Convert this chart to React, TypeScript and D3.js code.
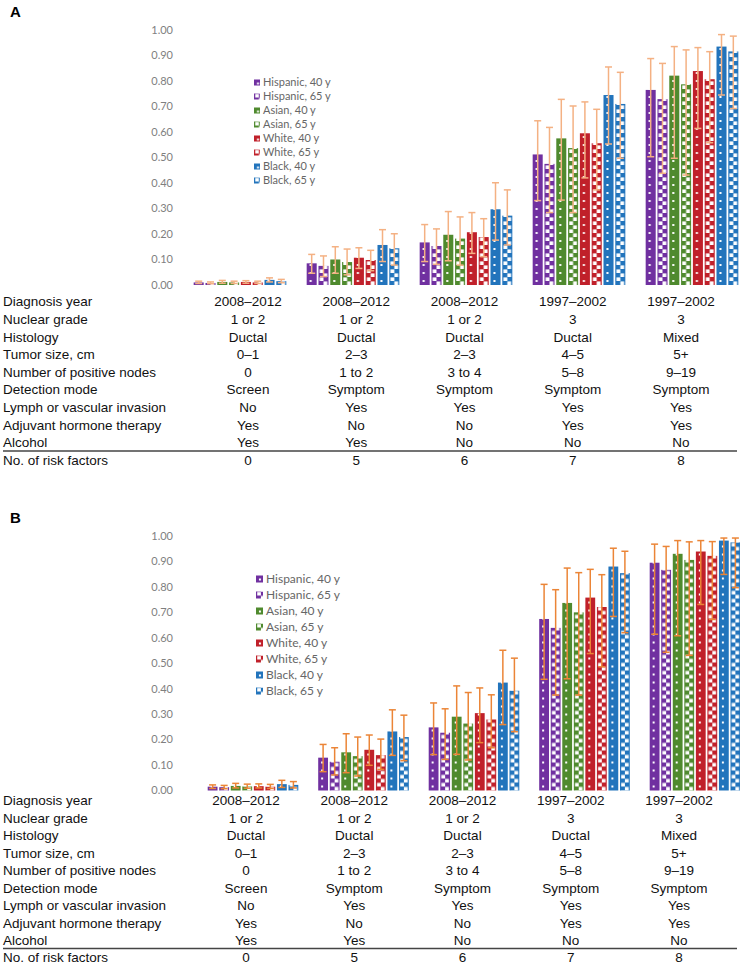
import React from "react";
import * as d3 from "d3";

const series = [
  "Hispanic, 40 y",
  "Hispanic, 65 y",
  "Asian, 40 y",
  "Asian, 65 y",
  "White, 40 y",
  "White, 65 y",
  "Black, 40 y",
  "Black, 65 y",
];
const riskFactors = ["0", "5", "6", "7", "8"];
const yTicks = [0, 0.1, 0.2, 0.3, 0.4, 0.5, 0.6, 0.7, 0.8, 0.9, 1.0];

const rowLabels = [
  "Diagnosis year",
  "Nuclear grade",
  "Histology",
  "Tumor size, cm",
  "Number of positive nodes",
  "Detection mode",
  "Lymph or vascular invasion",
  "Adjuvant hormone therapy",
  "Alcohol",
];
const diagnosisYear = ["2008–2012", "2008–2012", "2008–2012", "1997–2002", "1997–2002"];
const nuclearGrade = ["1 or 2", "1 or 2", "1 or 2", "3", "3"];
const histology = ["Ductal", "Ductal", "Ductal", "Ductal", "Mixed"];
const tumorSize = ["0–1", "2–3", "2–3", "4–5", "5+"];
const positiveNodes = ["0", "1 to 2", "3 to 4", "5–8", "9–19"];
const detectionMode = ["Screen", "Symptom", "Symptom", "Symptom", "Symptom"];
const lymphInvasion = ["No", "Yes", "Yes", "Yes", "Yes"];
const hormoneTherapy = ["Yes", "No", "No", "Yes", "Yes"];
const alcohol = ["Yes", "Yes", "No", "No", "No"];

// panel A: rows = risk-factor groups, columns = series order above
const estA = [
  [0.010, 0.008, 0.012, 0.010, 0.012, 0.010, 0.020, 0.015],
  [0.085, 0.075, 0.100, 0.090, 0.107, 0.098, 0.157, 0.144],
  [0.167, 0.153, 0.197, 0.182, 0.207, 0.188, 0.297, 0.272],
  [0.512, 0.475, 0.575, 0.537, 0.595, 0.556, 0.745, 0.710],
  [0.765, 0.729, 0.821, 0.787, 0.839, 0.807, 0.935, 0.916],
];
const lowA = [
  [0.006, 0.005, 0.007, 0.006, 0.007, 0.006, 0.012, 0.009],
  [0.046, 0.033, 0.046, 0.040, 0.065, 0.056, 0.092, 0.078],
  [0.092, 0.081, 0.095, 0.078, 0.124, 0.111, 0.176, 0.157],
  [0.331, 0.284, 0.333, 0.284, 0.420, 0.373, 0.553, 0.497],
  [0.503, 0.438, 0.497, 0.431, 0.614, 0.558, 0.745, 0.692],
];
const highA = [
  [0.015, 0.012, 0.018, 0.015, 0.017, 0.015, 0.028, 0.022],
  [0.120, 0.114, 0.150, 0.141, 0.146, 0.136, 0.217, 0.201],
  [0.237, 0.220, 0.288, 0.267, 0.284, 0.260, 0.401, 0.373],
  [0.644, 0.618, 0.728, 0.702, 0.718, 0.689, 0.855, 0.834],
  [0.888, 0.869, 0.935, 0.922, 0.931, 0.915, 0.982, 0.976],
];

// panel B
const estB = [
  [0.015, 0.013, 0.018, 0.016, 0.017, 0.015, 0.025, 0.022],
  [0.129, 0.113, 0.150, 0.135, 0.160, 0.139, 0.232, 0.210],
  [0.248, 0.227, 0.290, 0.263, 0.304, 0.279, 0.424, 0.392],
  [0.674, 0.639, 0.737, 0.700, 0.758, 0.721, 0.880, 0.854],
  [0.895, 0.867, 0.930, 0.906, 0.939, 0.922, 0.982, 0.975],
];
const lowB = [
  [0.008, 0.007, 0.010, 0.009, 0.010, 0.008, 0.012, 0.010],
  [0.074, 0.061, 0.070, 0.057, 0.099, 0.083, 0.138, 0.117],
  [0.141, 0.122, 0.142, 0.120, 0.188, 0.168, 0.259, 0.231],
  [0.437, 0.375, 0.439, 0.375, 0.538, 0.486, 0.684, 0.620],
  [0.614, 0.543, 0.608, 0.531, 0.731, 0.672, 0.849, 0.797],
];
const highB = [
  [0.022, 0.020, 0.028, 0.025, 0.026, 0.024, 0.040, 0.035],
  [0.181, 0.168, 0.223, 0.210, 0.218, 0.202, 0.317, 0.296],
  [0.344, 0.321, 0.411, 0.385, 0.403, 0.376, 0.551, 0.520],
  [0.810, 0.789, 0.874, 0.856, 0.869, 0.848, 0.952, 0.940],
  [0.968, 0.959, 0.982, 0.977, 0.982, 0.978, 0.992, 0.992],
];

const colors = ["#7030A0", "#7030A0", "#4F8A2E", "#4F8A2E", "#C0202A", "#C0202A", "#2274BC", "#2274BC"];
const tableFont = "'Liberation Sans', Arial, sans-serif";
const tickFont = "Lato, 'Open Sans', sans-serif";

const tableRows = [
  diagnosisYear,
  nuclearGrade,
  histology,
  tumorSize,
  positiveNodes,
  detectionMode,
  lymphInvasion,
  hormoneTherapy,
  alcohol,
];

type Panel = {
  id: string;
  letterY: number;
  est: number[][];
  low: number[][];
  high: number[][];
  y0: number;
  y1: number;
  xRange: [number, number];
  errColor: string;
  legendX: number;
  legendY: number;
  legendStep: number;
  legendSize: number;
  legendFont: number;
  tableY: number;
  rowStep: number;
  tableCols: [number, number];
  lineY: number;
  riskY: number;
};

const panels: Panel[] = [
  {
    id: "A",
    letterY: 12,
    est: estA,
    low: lowA,
    high: highA,
    y0: 285,
    y1: 30,
    xRange: [183.5, 748.5],
    errColor: "#F4B183",
    legendX: 254,
    legendY: 82.5,
    legendStep: 14,
    legendSize: 6,
    legendFont: 11,
    tableY: 301.7,
    rowStep: 17.6,
    tableCols: [248, 681],
    lineY: 451,
    riskY: 460.3,
  },
  {
    id: "B",
    letterY: 518,
    est: estB,
    low: lowB,
    high: highB,
    y0: 790.5,
    y1: 536,
    xRange: [197.75, 750.25],
    errColor: "#EB8537",
    legendX: 256,
    legendY: 579,
    legendStep: 16,
    legendSize: 7,
    legendFont: 12,
    tableY: 800.5,
    rowStep: 17.5,
    tableCols: [246, 679],
    lineY: 948.5,
    riskY: 957.5,
  },
];

const ChartPanel = ({ p }: { p: Panel }) => {
  const y = d3.scaleLinear().domain([0, 1]).range([p.y0, p.y1]);
  const x0 = d3.scaleBand().domain(riskFactors).range(p.xRange).paddingInner(0.18).paddingOuter(0.09);
  const x1 = d3.scaleBand().domain(series).range([0, x0.bandwidth()]).paddingInner(0.15);
  const bw = x1.bandwidth();
  const cols = d3.scalePoint().domain(riskFactors).range(p.tableCols);
  const fmt = d3.format(".2f");

  const patId = (i: number) => `pat-${p.id}-${i}`;
  const half = bw / 2;

  return (
    <g>
      <defs>
        {series.map((s, i) =>
          i % 2 === 0 ? (
            <pattern key={s} id={patId(i)} patternUnits="userSpaceOnUse" width={bw} height={8}>
              <rect width={bw} height={8} fill={colors[i]} />
              <rect x={bw * 0.3} y={3} width={2} height={2} fill="#fff" />
            </pattern>
          ) : (
            <pattern key={s} id={patId(i)} patternUnits="userSpaceOnUse" width={bw} height={8}>
              <rect width={bw} height={8} fill={colors[i]} />
              <rect x={1.2} y={0.4} width={half - 1.2} height={3.6} fill="#fff" />
              <rect x={half} y={4.4} width={half - 1.2} height={3.6} fill="#fff" />
            </pattern>
          )
        )}
      </defs>

      <text x={10} y={p.letterY} dy="0.35em" fontFamily={tableFont} fontWeight="bold" fontSize={15}>
        {p.id}
      </text>

      {yTicks.map((t) => (
        <text
          key={t}
          x={173}
          y={y(t)}
          dy="0.35em"
          textAnchor="end"
          fontFamily={tickFont}
          fontSize={11}
          fill="#7F7F7F"
        >
          {fmt(t)}
        </text>
      ))}

      {riskFactors.map((g, gi) => (
        <g key={g}>
          {series.map((s, si) => {
            const bx = (x0(g) ?? 0) + (x1(s) ?? 0);
            const v = p.est[gi][si];
            return (
              <g key={s} transform={`translate(${bx},${p.y0})`}>
                <rect x={0} y={y(v) - p.y0} width={bw} height={p.y0 - y(v)} fill={`url(#${patId(si)})`} />
              </g>
            );
          })}
          {series.map((s, si) => {
            const cx = (x0(g) ?? 0) + (x1(s) ?? 0) + bw / 2;
            const lo = y(p.low[gi][si]);
            const hi = y(p.high[gi][si]);
            return (
              <g key={s} stroke={p.errColor} strokeWidth={1.5}>
                <line x1={cx} x2={cx} y1={lo} y2={hi} />
                <line x1={cx - 3.5} x2={cx + 3.5} y1={hi} y2={hi} />
                <line x1={cx - 3.5} x2={cx + 3.5} y1={lo} y2={lo} />
              </g>
            );
          })}
        </g>
      ))}

      {series.map((s, i) => {
        const ly = p.legendY + i * p.legendStep;
        return (
          <g key={s}>
            <g transform={`translate(${p.legendX},${ly - p.legendSize / 2})`}>
              <rect width={p.legendSize} height={p.legendSize} fill={`url(#${patId(i)})`} />
            </g>
            <text
              x={p.legendX + p.legendSize + 3}
              y={ly}
              dy="0.35em"
              fontFamily={tickFont}
              fontSize={p.legendFont}
              fill="#666"
            >
              {s}
            </text>
          </g>
        );
      })}

      <g fontFamily={tableFont} fontSize={13.5} fill="#111">
        {rowLabels.map((r, ri) => (
          <g key={r}>
            <text x={3} y={p.tableY + ri * p.rowStep} dy="0.35em">
              {r}
            </text>
            {tableRows[ri].map((c, ci) => (
              <text key={ci} x={cols(riskFactors[ci])} y={p.tableY + ri * p.rowStep} dy="0.35em" textAnchor="middle">
                {c}
              </text>
            ))}
          </g>
        ))}
        <line x1={3} x2={737} y1={p.lineY} y2={p.lineY} stroke="#444" strokeWidth={1.5} />
        <text x={3} y={p.riskY} dy="0.35em">
          No. of risk factors
        </text>
        {riskFactors.map((r) => (
          <text key={r} x={cols(r)} y={p.riskY} dy="0.35em" textAnchor="middle">
            {r}
          </text>
        ))}
      </g>
    </g>
  );
};

export default function App() {
  return (
    <svg
      width={740}
      height={964}
      style={{ position: "absolute", left: 0, top: 0, background: "#fff" }}
    >
      {panels.map((p) => (
        <ChartPanel key={p.id} p={p} />
      ))}
    </svg>
  );
}
